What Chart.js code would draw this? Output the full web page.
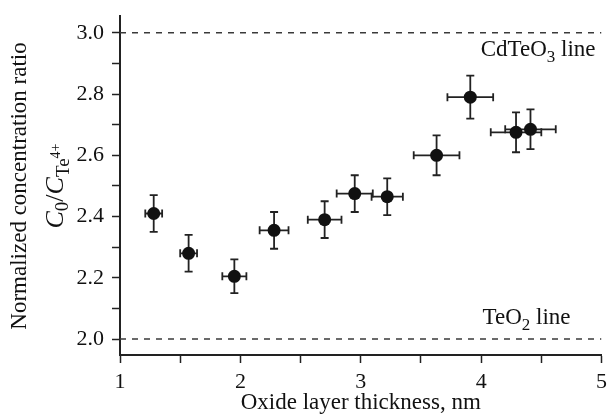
<!DOCTYPE html>
<html>
<head>
<meta charset="utf-8">
<script src="https://cdn.jsdelivr.net/npm/chart.js@4.4.0/dist/chart.umd.min.js"></script>
<style>
    html, body { margin: 0; padding: 0; background: #fff; }
    #wrap { width: 608px; height: 414px; }
</style>
</head>
<body>
<div id="wrap"><canvas id="ratioChart"></canvas></div>
<script>
// oxide thickness (nm) and normalized ratio C0/C(Te4+), with error bars
const thickness = [1.28, 1.57, 1.95, 2.28, 2.70, 2.95, 3.22, 3.63, 3.91, 4.29, 4.41];
const ratio = [2.41, 2.28, 2.205, 2.355, 2.39, 2.475, 2.465, 2.60, 2.79, 2.675, 2.685];
const thicknessErr = [0.07, 0.07, 0.10, 0.12, 0.14, 0.15, 0.13, 0.19, 0.19, 0.21, 0.21];
const ratioErr = [0.06, 0.06, 0.055, 0.06, 0.06, 0.06, 0.06, 0.065, 0.07, 0.065, 0.065];

// reference levels: CdTeO3 and TeO2
const refLevels = [3.0, 2.0];

// tick positions (labels only on the major ones)
const xTicks = [1, 1.5, 2, 2.5, 3, 3.5, 4, 4.5, 5];
const xLabels = ['1', '', '2', '', '3', '', '4', '', '5'];
const yTicks = [2.0, 2.1, 2.2, 2.3, 2.4, 2.5, 2.6, 2.7, 2.8, 2.9, 3.0];
const yLabels = ['2.0', '', '2.2', '', '2.4', '', '2.6', '', '2.8', '', '3.0'];

const xRange = [1, 5];
const yRange = [1.948, 3.055];

const serif = '"Liberation Serif", "Times New Roman", serif';
const ink = '#111';

function drawRich(ctx, parts, x, y, align) {
    let w = 0;
    parts.forEach(p => {
        ctx.font = p.font;
        p.w = ctx.measureText(p.t).width;
        w += p.w;
    });
    let cx = align === 'center' ? x - w / 2 : (align === 'right' ? x - w : x);
    ctx.textAlign = 'left';
    ctx.textBaseline = 'alphabetic';
    parts.forEach(p => {
        ctx.font = p.font;
        ctx.fillText(p.t, cx, y + (p.dy || 0));
        cx += p.w;
    });
}

const errorBars = {
    id: 'errorBars',
    beforeDatasetsDraw(chart) {
        const { ctx, scales: { x, y } } = chart;
        ctx.save();
        ctx.strokeStyle = '#222';
        ctx.lineWidth = 1.8;
        thickness.forEach((t, i) => {
            const px = x.getPixelForValue(t);
            const py = y.getPixelForValue(ratio[i]);
            const x0 = x.getPixelForValue(t - thicknessErr[i]);
            const x1 = x.getPixelForValue(t + thicknessErr[i]);
            const y0 = y.getPixelForValue(ratio[i] - ratioErr[i]);
            const y1 = y.getPixelForValue(ratio[i] + ratioErr[i]);
            ctx.beginPath();
            ctx.moveTo(x0, py); ctx.lineTo(x1, py);
            ctx.moveTo(x0, py - 4); ctx.lineTo(x0, py + 4);
            ctx.moveTo(x1, py - 4); ctx.lineTo(x1, py + 4);
            ctx.moveTo(px, y0); ctx.lineTo(px, y1);
            ctx.moveTo(px - 4, y0); ctx.lineTo(px + 4, y0);
            ctx.moveTo(px - 4, y1); ctx.lineTo(px + 4, y1);
            ctx.stroke();
        });
        ctx.restore();
    }
};

const textLabels = {
    id: 'textLabels',
    afterDraw(chart) {
        const { ctx, chartArea, scales: { y } } = chart;
        ctx.save();
        ctx.fillStyle = ink;

        // y axis title, two lines
        ctx.save();
        ctx.translate(26, 186);
        ctx.rotate(-Math.PI / 2);
        ctx.font = '23px ' + serif;
        ctx.textAlign = 'center';
        ctx.textBaseline = 'alphabetic';
        ctx.fillText('Normalized concentration ratio', 0, 0);
        drawRich(ctx, [
            { t: 'C', font: 'italic 26px ' + serif },
            { t: '0', font: '19px ' + serif, dy: 5 },
            { t: '/', font: '26px ' + serif },
            { t: 'C', font: 'italic 26px ' + serif },
            { t: 'Te', font: '19px ' + serif, dy: 6 },
            { t: '4+', font: '14px ' + serif, dy: -3 }
        ], 0, 37, 'center');
        ctx.restore();

        // reference line labels
        drawRich(ctx, [
            { t: 'CdTeO', font: '23px ' + serif },
            { t: '3', font: '17px ' + serif, dy: 6 },
            { t: ' line', font: '23px ' + serif }
        ], chartArea.right - 6, y.getPixelForValue(refLevels[0]) + 23, 'right');
        drawRich(ctx, [
            { t: 'TeO', font: '23px ' + serif },
            { t: '2', font: '17px ' + serif, dy: 6 },
            { t: ' line', font: '23px ' + serif }
        ], chartArea.right - 31, y.getPixelForValue(refLevels[1]) - 15, 'right');

        ctx.restore();
    }
};

const refSets = refLevels.map(level => ({
    data: [{ x: xRange[0], y: level }, { x: xRange[1], y: level }],
    showLine: true,
    borderColor: '#3a3a3a',
    borderWidth: 1.5,
    borderDash: [6, 6],
    pointRadius: 0,
    fill: false
}));

const ctx = document.getElementById('ratioChart').getContext('2d');

const ratioChart = new Chart(ctx, {
    type: 'scatter',
    data: {
        datasets: [
            ...refSets,
            {
                data: thickness.map((t, i) => ({ x: t, y: ratio[i] })),
                pointRadius: 6.5,
                pointBackgroundColor: ink,
                pointBorderColor: ink,
                pointBorderWidth: 0
            }
        ]
    },
    options: {
        responsive: true,
        maintainAspectRatio: false,
        animation: false,
        layout: {
            padding: { top: 16, right: 3, left: 0, bottom: 0 }
        },
        plugins: {
            legend: { display: false },
            tooltip: { enabled: false }
        },
        scales: {
            x: {
                type: 'linear',
                min: xRange[0],
                max: xRange[1],
                afterBuildTicks: s => { s.ticks = xTicks.map(v => ({ value: v })); },
                afterFit: s => {
                    s.height = 59;
                    s.paddingLeft = 0;
                    s.paddingRight = 0;
                },
                ticks: {
                    autoSkip: false,
                    maxRotation: 0,
                    padding: 6,
                    color: ink,
                    font: { family: serif, size: 22 },
                    callback: (v, i) => xLabels[i]
                },
                grid: {
                    drawOnChartArea: false,
                    tickLength: 8,
                    tickColor: '#222',
                    tickWidth: 1.5
                },
                border: { color: '#222', width: 2 },
                title: {
                    display: true,
                    text: 'Oxide layer thickness, nm',
                    color: ink,
                    font: { family: serif, size: 23, lineHeight: 1 },
                    padding: { top: 0, bottom: 0 }
                }
            },
            y: {
                type: 'linear',
                min: yRange[0],
                max: yRange[1],
                afterBuildTicks: s => { s.ticks = yTicks.map(v => ({ value: v })); },
                afterFit: s => {
                    s.width = 120;
                    s.paddingTop = 0;
                    s.paddingBottom = 0;
                },
                ticks: {
                    autoSkip: false,
                    padding: 8,
                    color: ink,
                    font: { family: serif, size: 22 },
                    callback: (v, i) => yLabels[i]
                },
                grid: {
                    drawOnChartArea: false,
                    tickLength: 8,
                    tickColor: '#222',
                    tickWidth: 1.5
                },
                border: { color: '#222', width: 2 }
            }
        }
    },
    plugins: [errorBars, textLabels]
});
</script>
</body>
</html>
